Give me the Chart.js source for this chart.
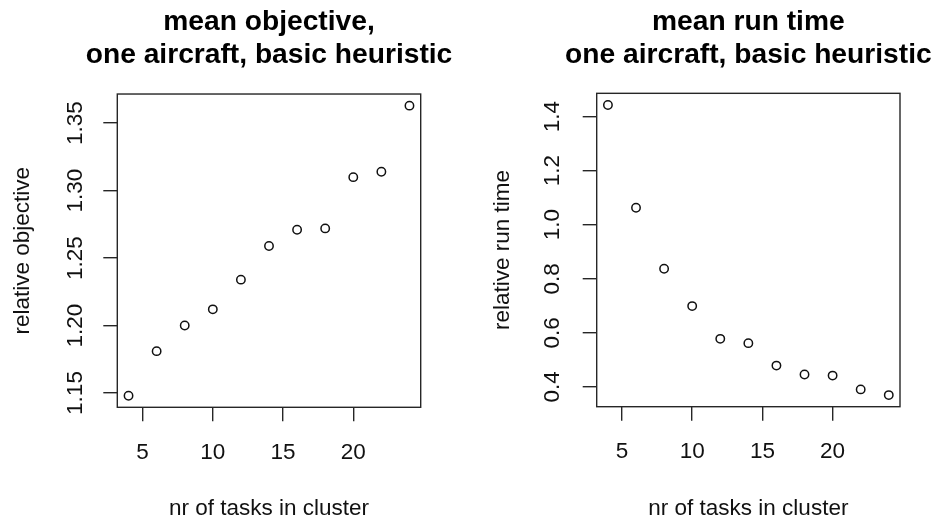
<!DOCTYPE html>
<html>
<head>
<meta charset="utf-8">
<script src="https://cdn.jsdelivr.net/npm/chart.js@4.4.1/dist/chart.umd.min.js"></script>
<style>
  html, body { margin: 0; padding: 0; background: #ffffff; }
  #wrap { position: relative; width: 936px; height: 520px; overflow: hidden; }
  .panel { position: absolute; top: 0; width: 468px; height: 520px; }
</style>
</head>
<body>
<div id="wrap">
  <div class="panel" style="left:0"><canvas id="objChart" width="468" height="520"></canvas></div>
  <div class="panel" style="left:468px"><canvas id="timeChart" width="468" height="520"></canvas></div>
</div>
<script>
// number of tasks per cluster (shared x values)
const clusterSizes = [4, 6, 8, 10, 12, 14, 16, 18, 20, 22, 24];
// mean objective relative to baseline
const relativeObjective = [1.148, 1.181, 1.200, 1.212, 1.234, 1.259, 1.271, 1.272, 1.310, 1.314, 1.363];
// mean run time relative to baseline
const relativeRunTime = [1.443, 1.063, 0.837, 0.699, 0.578, 0.562, 0.479, 0.446, 0.442, 0.391, 0.370];

// tick positions
const clusterTicks = [5, 10, 15, 20];
const objectiveTicks = [1.15, 1.20, 1.25, 1.30, 1.35];
const runTimeTicks = [0.4, 0.6, 0.8, 1.0, 1.2, 1.4];

// titles and axis labels
const objectiveTitle = ['mean objective,', 'one aircraft, basic heuristic'];
const runTimeTitle = ['mean run time', 'one aircraft, basic heuristic'];
const xLabel = 'nr of tasks in cluster';
const objectiveLabel = 'relative objective';
const runTimeLabel = 'relative run time';

const FONT = "'Liberation Sans', Arial, Helvetica, sans-serif";
const INK = '#111111';
const LINE = '#262626';

// extend a data range by 4% on each side, like a classic base-graphics plot
function paddedRange(values) {
  const lo = Math.min(...values), hi = Math.max(...values);
  const ext = (hi - lo) * 0.04;
  return { min: lo - ext, max: hi + ext };
}

// closed frame around the plotting region
const frame = {
  id: 'frame',
  afterDraw(chart) {
    const { ctx, chartArea: a } = chart;
    ctx.save();
    ctx.strokeStyle = LINE;
    ctx.lineWidth = 1.4;
    ctx.strokeRect(a.left, a.top, a.right - a.left, a.bottom - a.top);
    ctx.restore();
  }
};

// the title stays centred over the plot but may run wider than it
const wideTitle = {
  id: 'wideTitle',
  afterLayout(chart) {
    const t = chart.titleBlock;
    if (!t) return;
    const c = (t.left + t.right) / 2;
    const half = chart.width / 2;
    t.left = c - half;
    t.right = c + half;
    t.width = half * 2;
  }
};

function makePanel(canvasId, cfg) {
  const xr = paddedRange(clusterSizes);
  const yr = paddedRange(cfg.values);
  return new Chart(document.getElementById(canvasId), {
    type: 'scatter',
    data: {
      datasets: [{
        data: clusterSizes.map((x, i) => ({ x: x, y: cfg.values[i] })),
        pointStyle: 'circle',
        pointRadius: 4.2,
        pointBorderWidth: 1.5,
        pointBorderColor: INK,
        pointBackgroundColor: 'rgba(0,0,0,0)',
        showLine: false
      }]
    },
    options: {
      responsive: false,
      animation: false,
      events: [],
      layout: { padding: { left: 0, top: 0, bottom: 0, right: cfg.rightPad } },
      plugins: {
        legend: { display: false },
        tooltip: { enabled: false },
        title: {
          display: true,
          fullSize: false,
          text: cfg.title,
          color: '#000000',
          font: { family: FONT, size: 28.2, weight: 'bold', lineHeight: 1.16 },
          padding: { top: 5.7, bottom: cfg.titleGap }
        }
      },
      scales: {
        x: {
          type: 'linear',
          position: 'bottom',
          min: xr.min,
          max: xr.max,
          bounds: 'data',
          afterBuildTicks: s => { s.ticks = clusterTicks.map(v => ({ value: v })); },
          afterFit: s => { s.height = 520 - cfg.bottom; },
          grid: { display: true, drawOnChartArea: false, drawTicks: true, tickLength: 14, color: LINE, lineWidth: 1.4 },
          border: { display: false },
          ticks: {
            color: INK,
            font: { family: FONT, size: 22.5 },
            padding: 17.5,
            maxRotation: 0,
            autoSkip: false,
            callback: v => String(v)
          },
          title: {
            display: true,
            text: xLabel,
            color: INK,
            font: { family: FONT, size: 22.5, lineHeight: 1 },
            padding: { top: 0, bottom: 0 }
          }
        },
        y: {
          type: 'linear',
          position: 'left',
          min: yr.min,
          max: yr.max,
          bounds: 'data',
          afterBuildTicks: s => { s.ticks = cfg.ticks.map(v => ({ value: v })); },
          afterFit: s => { s.width = cfg.left; },
          grid: { display: true, drawOnChartArea: false, drawTicks: true, tickLength: 14, color: LINE, lineWidth: 1.4 },
          border: { display: false },
          ticks: {
            color: INK,
            font: { family: FONT, size: 22.5 },
            minRotation: 90,
            maxRotation: 90,
            crossAlign: 'center',
            padding: cfg.tickPad,
            autoSkip: false,
            callback: v => v.toFixed(cfg.decimals)
          },
          title: {
            display: true,
            text: cfg.yLabel,
            color: INK,
            font: { family: FONT, size: 22.5, lineHeight: 1 },
            padding: { top: cfg.yTitlePad, bottom: 0 }
          }
        }
      }
    },
    plugins: [wideTitle, frame]
  });
}

makePanel('objChart', {
  values: relativeObjective,
  ticks: objectiveTicks,
  decimals: 2,
  title: objectiveTitle,
  yLabel: objectiveLabel,
  left: 117.3,
  rightPad: 47.3,
  bottom: 407.3,
  titleGap: 22.9,
  tickPad: 6,
  yTitlePad: 11.5
});

makePanel('timeChart', {
  values: relativeRunTime,
  ticks: runTimeTicks,
  decimals: 1,
  title: runTimeTitle,
  yLabel: runTimeLabel,
  left: 128.7,
  rightPad: 36,
  bottom: 406.7,
  titleGap: 22.2,
  tickPad: 14,
  yTitlePad: 23.5
});
</script>
</body>
</html>
